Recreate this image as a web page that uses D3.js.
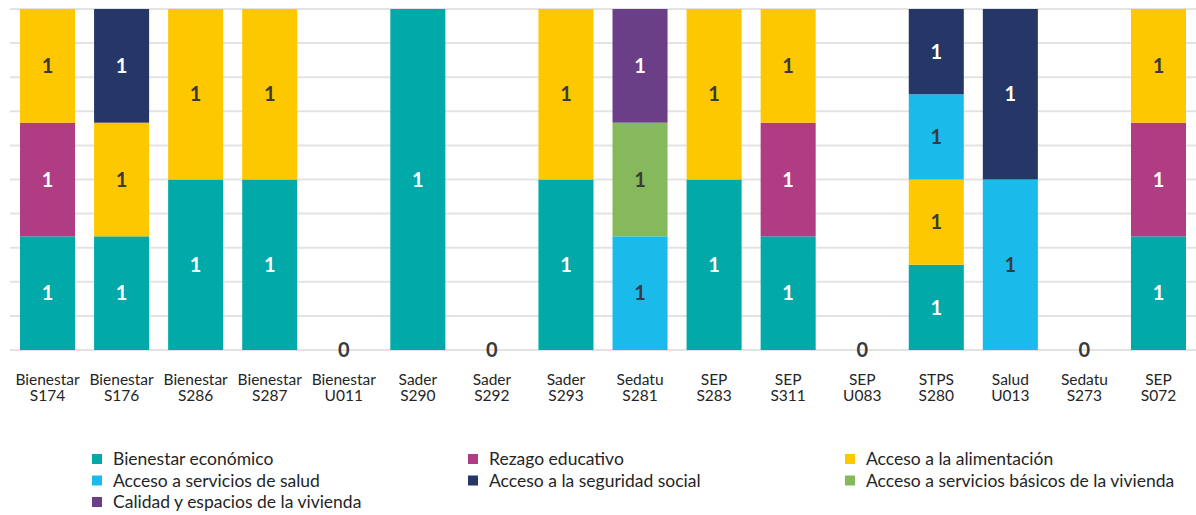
<!DOCTYPE html>
<html>
<head>
<meta charset="utf-8">
<script src="https://cdn.jsdelivr.net/npm/d3@7"></script>
<style>
  body { margin: 0; background: #fff; }
  svg text { font-family: Lato, Roboto, sans-serif; }
</style>
</head>
<body>
<svg id="chart"></svg>
<script>
// programas (dos renglones por etiqueta)
let programs = [
    ["Bienestar", "S174"], ["Bienestar", "S176"], ["Bienestar", "S286"], ["Bienestar", "S287"],
    ["Bienestar", "U011"], ["Sader", "S290"], ["Sader", "S292"], ["Sader", "S293"],
    ["Sedatu", "S281"], ["SEP", "S283"], ["SEP", "S311"], ["SEP", "U083"],
    ["STPS", "S280"], ["Salud", "U013"], ["Sedatu", "S273"], ["SEP", "S072"]
]

let seriesNames = [
    "Bienestar económico", "Rezago educativo", "Acceso a la alimentación",
    "Acceso a servicios de salud", "Acceso a la seguridad social",
    "Acceso a servicios básicos de la vivienda", "Calidad y espacios de la vivienda"
]

// un valor por programa, en el mismo orden que programs
let bienestarEconomico = [1, 1, 1, 1, 0, 1, 0, 1, 0, 1, 1, 0, 1, 0, 0, 1]
let rezagoEducativo    = [1, 0, 0, 0, 0, 0, 0, 0, 0, 0, 1, 0, 0, 0, 0, 1]
let alimentacion       = [1, 1, 1, 1, 0, 0, 0, 1, 0, 1, 1, 0, 1, 0, 0, 1]
let serviciosSalud     = [0, 0, 0, 0, 0, 0, 0, 0, 1, 0, 0, 0, 1, 1, 0, 0]
let seguridadSocial    = [0, 1, 0, 0, 0, 0, 0, 0, 0, 0, 0, 0, 1, 1, 0, 0]
let serviciosBasicos   = [0, 0, 0, 0, 0, 0, 0, 0, 1, 0, 0, 0, 0, 0, 0, 0]
let calidadVivienda    = [0, 0, 0, 0, 0, 0, 0, 0, 1, 0, 0, 0, 0, 0, 0, 0]

let yTicks = [0, 0.1, 0.2, 0.3, 0.4, 0.5, 0.6, 0.7, 0.8, 0.9, 1]

let colors = ["#01a9a9", "#b03d84", "#fdc800", "#1abbeb", "#243766", "#86b85c", "#6b3f87"]
let labelColors = ["#fff", "#fff", "#3a3a3a", "#3a3a3a", "#fff", "#3a3a3a", "#fff"]

function createChart() {
    let w = 1196, h = 515;
    let svg = d3.select("#chart").attr("width", w).attr("height", h);

    let allSeries = [bienestarEconomico, rezagoEducativo, alimentacion, serviciosSalud,
                     seguridadSocial, serviciosBasicos, calidadVivienda];

    let rows = programs.map((p, i) => {
        let r = { key: p.join(" ") };
        seriesNames.forEach((s, j) => r[s] = allSeries[j][i]);
        return r;
    });

    let stacked = d3.stack()
        .keys(seriesNames)
        .offset(d3.stackOffsetExpand)(rows);

    let x = d3.scaleBand()
        .domain(rows.map(d => d.key))
        .range([10.5, 1195.5])
        .paddingInner(0.257)
        .paddingOuter(0.1285);

    let y = d3.scaleLinear()
        .domain([0, 1])
        .range([350, 9]);

    // gridlines
    svg.append("g")
        .selectAll("line")
        .data(yTicks)
        .enter()
        .append("line")
        .attr("x1", 10).attr("x2", w)
        .attr("y1", d => y(d)).attr("y2", d => y(d))
        .attr("stroke", "#e3e3e3")
        .attr("stroke-width", 2);

    let layer = svg.append("g")
        .selectAll("g")
        .data(stacked)
        .enter()
        .append("g")
        .attr("fill", (d, i) => colors[i]);

    layer.selectAll("rect")
        .data(d => d.filter(s => s[1] - s[0] > 0))
        .enter()
        .append("rect")
        .attr("x", d => x(d.data.key))
        .attr("width", x.bandwidth())
        .attr("y", d => y(d[1]))
        .attr("height", d => y(d[0]) - y(d[1]));

    // etiquetas de valor
    stacked.forEach((s, i) => {
        svg.append("g")
            .selectAll("text")
            .data(s.filter(d => d[1] - d[0] > 0))
            .enter()
            .append("text")
            .attr("x", d => x(d.data.key) + x.bandwidth() / 2)
            .attr("y", d => (y(d[0]) + y(d[1])) / 2)
            .attr("dy", "0.36em")
            .attr("text-anchor", "middle")
            .attr("font-size", 20)
            .attr("font-weight", "bold")
            .attr("fill", labelColors[i])
            .text(d => d.data[s.key]);
    });

    // programas sin carencias: etiqueta 0
    svg.append("g")
        .selectAll("text")
        .data(rows.filter(r => d3.sum(seriesNames, s => r[s]) === 0))
        .enter()
        .append("text")
        .attr("x", d => x(d.key) + x.bandwidth() / 2)
        .attr("y", y(0))
        .attr("dy", "0.36em")
        .attr("text-anchor", "middle")
        .attr("font-size", 20)
        .attr("font-weight", "bold")
        .attr("fill", "#3a3a3a")
        .text(d => d3.sum(seriesNames, s => d[s]));

    // eje x
    let xl = svg.append("g")
        .selectAll("text")
        .data(programs)
        .enter()
        .append("text")
        .attr("x", d => x(d.join(" ")) + x.bandwidth() / 2)
        .attr("text-anchor", "middle")
        .attr("font-size", 15.5)
        .attr("fill", "#252525");
    xl.append("tspan").attr("y", 385).attr("x", d => x(d.join(" ")) + x.bandwidth() / 2).text(d => d[0]);
    xl.append("tspan").attr("y", 401).attr("x", d => x(d.join(" ")) + x.bandwidth() / 2).text(d => d[1]);

    // leyenda
    let colX = [92, 468, 845];
    let legend = svg.append("g")
        .selectAll("g")
        .data(seriesNames)
        .enter()
        .append("g")
        .attr("transform", (d, i) => `translate(${colX[i % 3]},${459 + Math.floor(i / 3) * 21.5})`);

    legend.append("rect")
        .attr("x", 0).attr("y", -5)
        .attr("width", 10).attr("height", 10)
        .attr("fill", (d, i) => colors[i]);

    legend.append("text")
        .attr("x", 21)
        .attr("dy", "0.35em")
        .attr("font-size", 17.5)
        .attr("fill", "#252525")
        .text(d => d);
}

window.onload = function() {
    createChart();
}
</script>
</body>
</html>
